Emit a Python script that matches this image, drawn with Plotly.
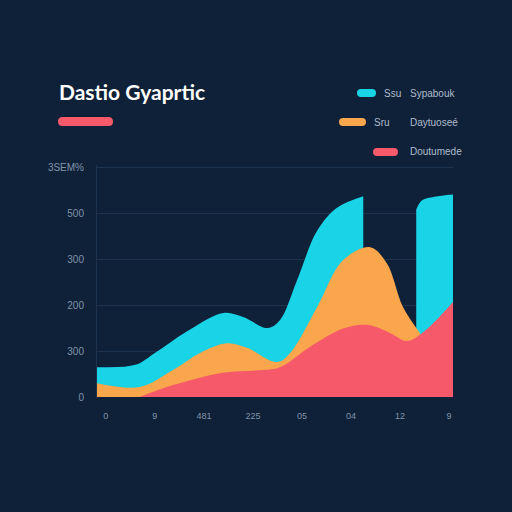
import plotly.graph_objects as go

# ---- data ----
x_ticks = [0, 1, 2, 3, 4, 5, 6, 7]
x_labels = ["0", "9", "481", "225", "05", "04", "12", "9"]
y_ticks = [0, 100, 200, 300, 400, 500]
y_labels = ["0", "300", "200", "300", "500", "3SEM%"]

cyan_x_a = [-0.18, 0.6, 1.0, 1.7, 2.4, 2.8, 3.3, 3.55, 3.9, 4.3, 4.7, 5.25]
cyan_y_a = [65, 70, 96, 146, 183, 174, 150, 167, 254, 360, 411, 437]
cyan_x_b = [6.33, 6.45, 6.7, 7.08]
cyan_y_b = [408, 428, 436, 441]

orange_x = [-0.18, 0.69, 1.37, 1.92, 2.47, 2.88, 3.49, 3.76, 4.31, 4.84, 5.39, 5.73, 6.06, 6.41]
orange_y = [30, 22, 59, 96, 117, 107, 76, 96, 196, 298, 326, 291, 196, 139]

red_x = [0.69, 1.37, 2.39, 3.08, 3.55, 4.16, 4.84, 5.33, 5.8, 6.14, 6.47, 7.08]
red_y = [0, 26, 53, 58, 65, 109, 149, 157, 139, 122, 141, 207]

title_text = "Dastio Gyaprtic"
legend_rows = [
    ("#19d3e6", "Ssu", "Sypabouk"),
    ("#f9a64c", "Sru", "Daytuoseé"),
    ("#f65a6a", "", "Doutumede"),
]

BG = "#0e2139"
CYAN, ORANGE, RED = "#19d3e6", "#f9a64c", "#f65a6a"
L, R, T, B = 97, 59, 165, 115
W, H = 512 - L - R, 512 - T - B

fig = go.Figure()
for xs, ys, c in [(cyan_x_a, cyan_y_a, CYAN), (cyan_x_b, cyan_y_b, CYAN),
                  (orange_x, orange_y, ORANGE), (red_x, red_y, RED)]:
    fig.add_trace(go.Scatter(x=xs, y=ys, mode="lines", fill="tozeroy",
                             line=dict(width=0, shape="spline", smoothing=1.0, color=c),
                             fillcolor=c, hoverinfo="skip", showlegend=False))

fig.update_layout(
    width=512, height=512,
    margin=dict(l=L, r=R, t=T, b=B),
    paper_bgcolor=BG, plot_bgcolor=BG,
    showlegend=False,
    font=dict(family="Liberation Sans, Arial", color="#8d9bb0", size=9),
    xaxis=dict(range=[-0.18, 7.08], tickvals=x_ticks, ticktext=x_labels,
               showgrid=False, zeroline=False, showline=False, ticks="",
               ticklabelstandoff=12, tickfont=dict(size=9, color="#8193a8")),
    yaxis=dict(range=[0, 505], tickvals=y_ticks, ticktext=y_labels,
               showgrid=True, gridcolor="#1c334f", gridwidth=1,
               zeroline=False, showline=True, linecolor="#1c334f", linewidth=1,
               ticks="", ticklabelstandoff=10, tickfont=dict(size=10, color="#8193a8")),
)


def pill(xpx, ypx, w, h, color):
    r = h / 2
    path = (f"M {r},0 L {w - r},0 Q {w},0 {w},{-r} Q {w},{-h} {w - r},{-h} "
            f"L {r},{-h} Q 0,{-h} 0,{-r} Q 0,0 {r},0 Z")
    return dict(type="path", xref="paper", yref="paper",
                xsizemode="pixel", ysizemode="pixel",
                xanchor=(xpx - L) / W, yanchor=1 - (ypx - T) / H,
                path=path, fillcolor=color, line=dict(width=0), layer="above")


shapes = [pill(58, 117, 55, 9, RED)]
pill_pos = [(357, 89, 19, 8), (339, 118, 27, 8), (373, 148, 25, 8)]
annotations = [dict(text=f"<b>{title_text}</b>", x=57, y=92,
                    showarrow=False, font=dict(family="Lato, Inter", size=21, color="#ffffff"),
                    xanchor="left", yanchor="middle")]
for (col, a, b), (px, py, w, h) in zip(legend_rows, pill_pos):
    shapes.append(pill(px, py, w, h, col))
    yc = py + h / 2
    if a:
        annotations.append(dict(text=a, x=px + w + 6, y=yc, showarrow=False,
                                xanchor="left", yanchor="middle",
                                font=dict(size=10, color="#aebccb")))
    annotations.append(dict(text=b, x=408, y=yc, showarrow=False,
                            xanchor="left", yanchor="middle",
                            font=dict(size=10, color="#aebccb")))

for an in annotations:
    an["xref"] = "paper"; an["yref"] = "paper"
    an["x"] = (an["x"] - L) / W
    an["y"] = 1 - (an["y"] - T) / H

fig.update_layout(shapes=shapes, annotations=annotations)
fig.write_html("out.html")
